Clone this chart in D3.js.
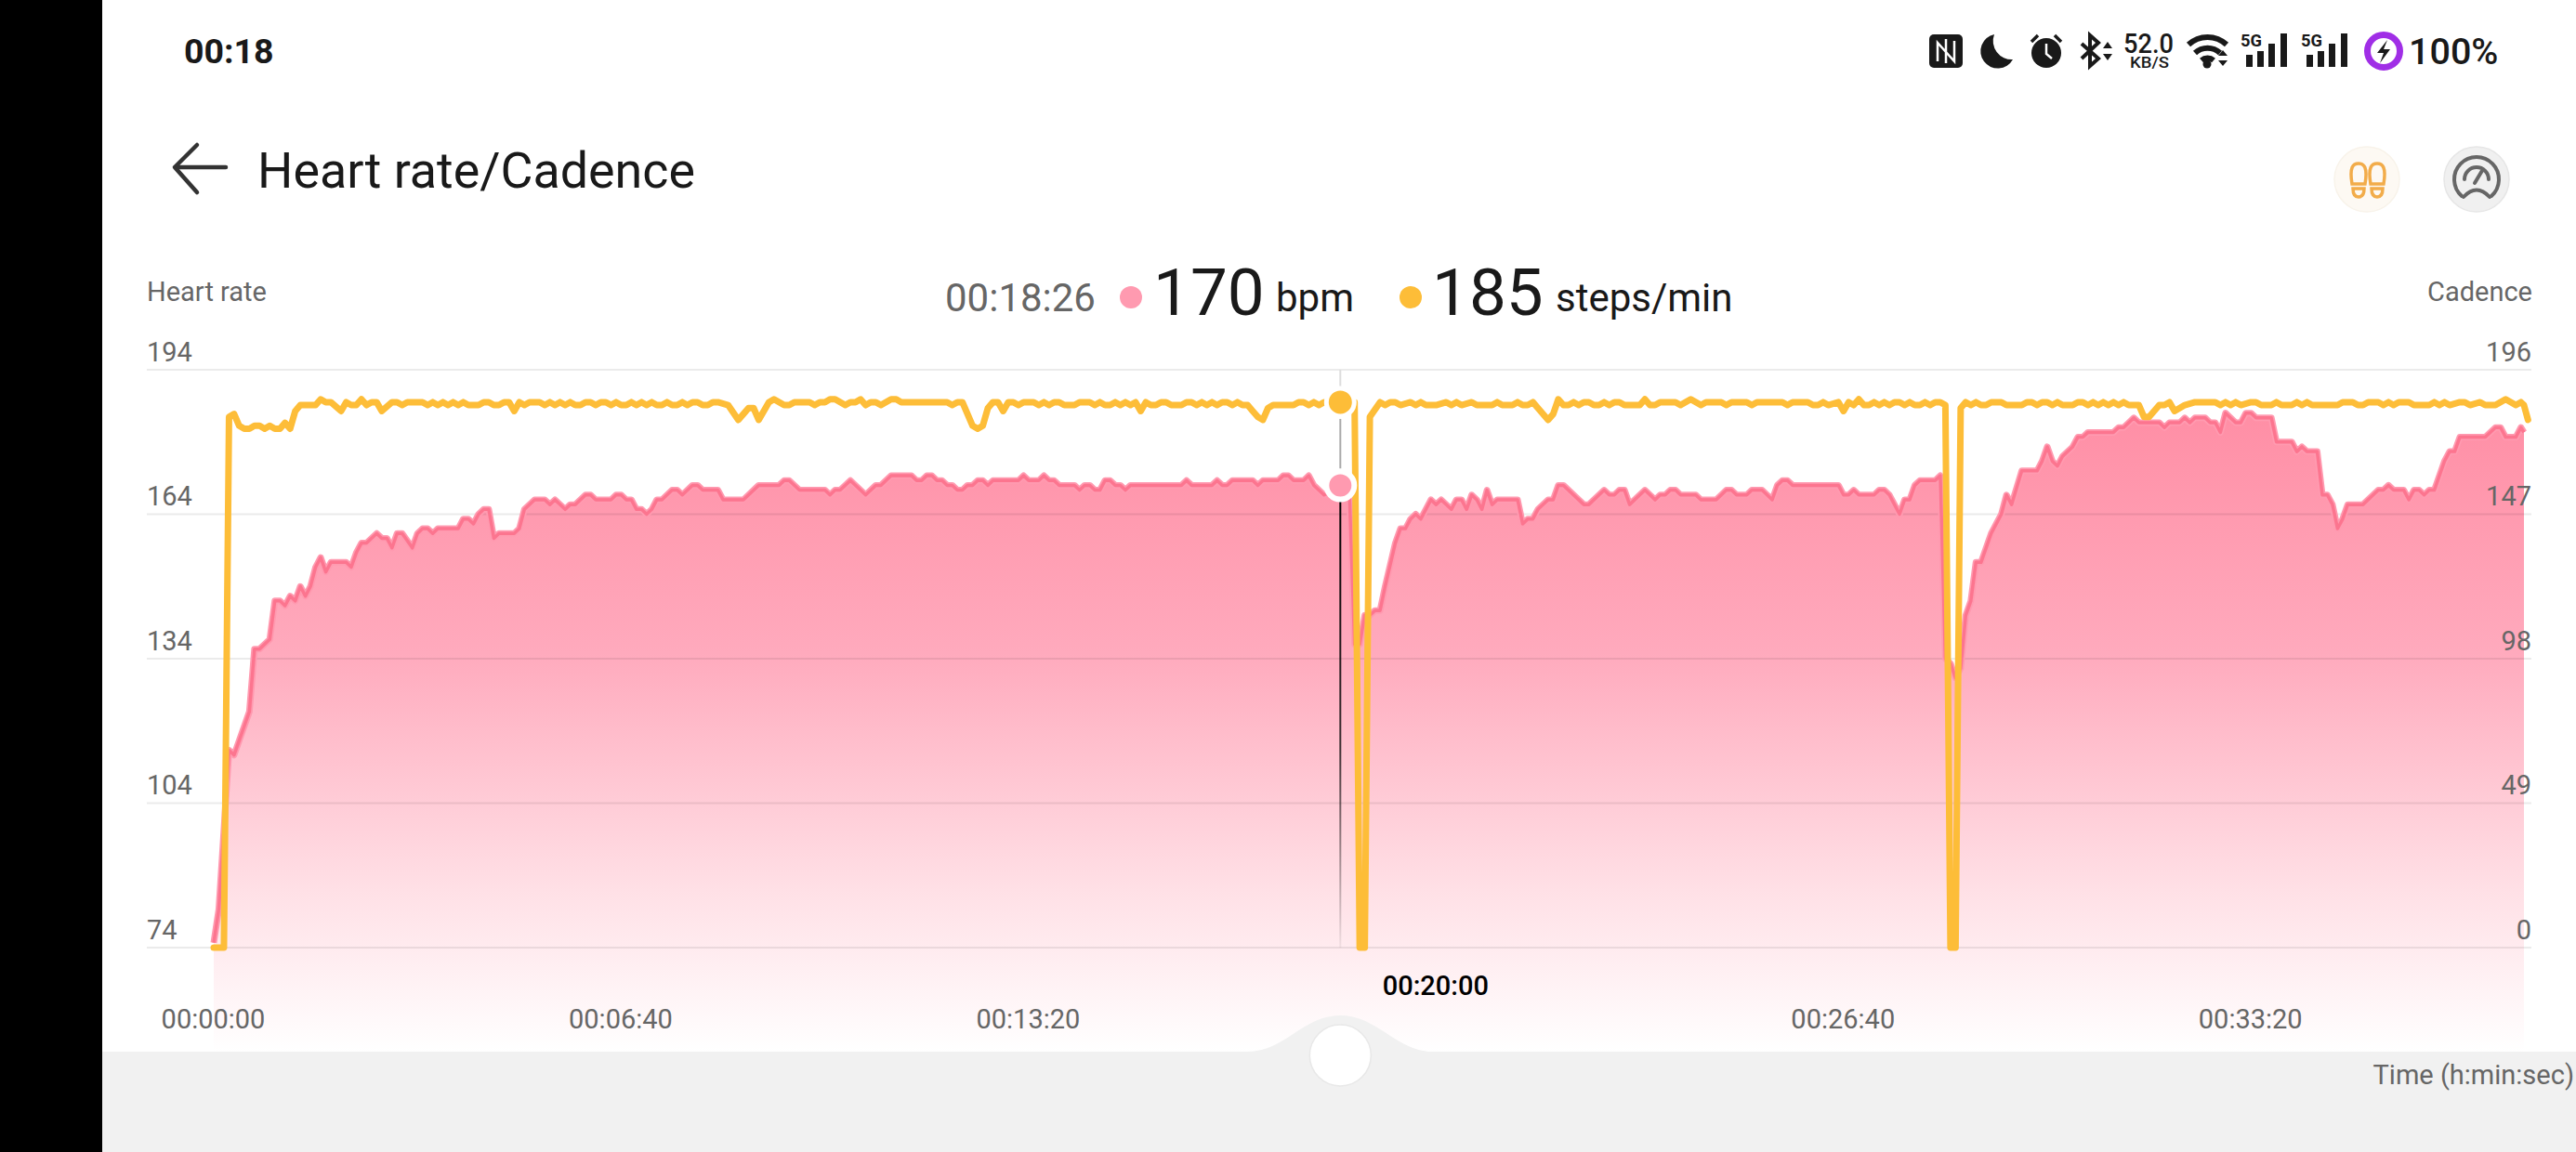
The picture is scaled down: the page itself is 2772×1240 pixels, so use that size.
<!DOCTYPE html>
<html><head><meta charset="utf-8">
<script src="https://cdn.jsdelivr.net/npm/d3@7"></script>
<style>
html,body{margin:0;padding:0;background:#fff}
svg{display:block}
text{font-family:Roboto,"Noto Sans",sans-serif}
</style></head><body>
<svg id="c" width="2772" height="1240"></svg>
<script>
const hrTicks=[74,104,134,164,194];
const cadenceTicks=[0,49,98,147,196];
const timeTicks=[0,400,800,1200,1600,2000];
const highlightedTick=1200;
const cursorSeconds=1106, cursorBpm=170, cursorCadence=185;

// [seconds, bpm]
const heartRate=[[0,75],[5,82],[15,115],[20,114],[35,123],[40,136],[45,136],[55,138],[60,146],[65,146],[70,145],[75,147],[80,146],[85,149],[90,147],[95,149],[100,153],[105,155],[110,152],[115,154],[130,154],[135,153],[140,156],[145,158],[150,158],[160,160],[165,159],[170,159],[175,157],[180,160],[185,160],[195,157],[200,160],[205,161],[210,161],[215,160],[220,161],[240,161],[245,163],[250,163],[255,162],[260,164],[265,165],[270,165],[275,159],[280,160],[295,160],[300,161],[305,165],[315,167],[325,167],[330,166],[335,167],[345,165],[350,166],[355,166],[365,168],[370,168],[375,167],[390,167],[395,168],[400,168],[405,167],[410,167],[415,165],[420,165],[425,164],[430,165],[435,167],[440,167],[450,169],[455,169],[460,168],[470,170],[475,170],[480,169],[495,169],[500,167],[520,167],
[535,170],[555,170],[560,171],[565,171],[575,169],[600,169],[605,168],[610,169],[615,169],[625,171],[640,168],[650,170],[655,170],[665,172],[685,172],[690,171],[695,171],[700,172],[705,172],[710,171],[715,171],[720,170],[725,170],[730,169],[735,169],[740,170],[745,170],[750,171],[755,171],[760,170],[765,171],[790,171],[795,172],[800,171],[810,171],[815,172],[820,171],[825,171],[830,170],[845,170],[850,169],[855,170],[860,170],[865,169],[870,169],[875,171],[880,171],[885,170],[890,170],[895,169],[900,170],[950,170],[955,171],[960,170],[980,170],[985,171],[990,170],[995,170],[1000,171],[1020,171],[1025,170],[1030,171],[1045,171],[1050,172],[1055,172],[1060,171],[1070,171],[1075,172],[1080,170],[1090,168],[1100,169],[1106,170],[1110,170],[1115,168],
[1120,137],[1125,137],[1130,143],[1135,143],[1140,144],[1145,144],[1150,149],[1160,158],[1165,161],[1170,161],[1175,163],[1180,164],[1185,163],[1195,167],[1200,166],[1205,167],[1215,165],[1220,167],[1225,167],[1230,165],[1235,168],[1240,167],[1245,165],[1250,169],[1255,166],[1260,167],[1280,167],[1285,162],[1290,163],[1295,163],[1300,165],[1310,167],[1315,167],[1320,170],[1325,170],[1345,166],[1350,166],[1365,169],[1370,168],[1375,168],[1380,169],[1385,169],[1390,166],[1405,169],[1415,167],[1420,168],[1425,168],[1430,169],[1435,169],[1440,168],[1455,168],[1460,167],[1475,167],[1485,169],[1490,169],[1495,168],[1505,168],[1510,169],[1520,169],[1530,167],[1535,170],[1540,171],[1545,171],[1550,170],[1595,170],[1600,168],[1605,168],[1610,169],[1615,168],[1630,168],[1635,169],[1640,169],[1645,168],[1655,164],[1660,167],[1665,167],[1670,170],[1675,171],[1690,171],[1695,172],
[1700,134],[1705,133],[1710,130],[1715,132],[1720,143],[1725,146],[1730,154],[1735,154],[1745,160],[1755,164],[1760,168],[1765,166],[1775,173],[1790,173],[1795,175],[1800,178],[1805,175],[1810,174],[1815,176],[1825,178],[1830,180],[1835,180],[1840,181],[1865,181],[1870,182],[1875,182],[1885,184],[1890,183],[1910,183],[1915,182],[1920,183],[1930,183],[1935,184],[1940,183],[1945,184],[1955,184],[1960,183],[1965,183],[1970,181],[1975,185],[1985,183],[1990,183],[1995,185],[2000,185],[2005,184],[2020,184],[2025,179],[2040,179],[2045,177],[2050,178],[2055,177],[2065,177],[2070,168],[2075,168],[2080,166],[2085,161],[2090,163],[2095,166],[2110,166],[2125,169],[2130,169],[2135,170],[2140,169],[2150,169],[2155,167],[2160,169],[2165,169],[2170,168],[2175,169],[2180,169],[2190,175],[2195,177],[2200,177],[2205,180],[2230,180],[2240,182],[2245,182],[2250,180],[2260,180],[2265,182],[2268,181]];

// [seconds, steps per minute]
const cadence=[[0,0],[10,0],[15,180],[20,181],[25,177],[30,176],[35,176],[40,177],[45,177],[50,176],[55,177],[60,176],[65,176],[70,178],[75,176],[80,182],[85,184],[100,184],[105,186],[110,185],[115,185],[125,182],[130,185],[135,184],[140,184],[145,186],[150,184],[155,185],[160,185],[165,182],[175,185],[180,185],[185,184],[190,185],[205,185],[210,184],[215,185],[220,184],[225,185],[230,184],[235,185],[240,184],[245,185],[250,184],[260,184],[265,185],[270,185],[275,184],[280,184],[285,185],[290,185],[295,182],[300,185],[305,184],[310,185],[320,185],[325,184],[330,185],[335,184],[340,185],[345,184],[350,185],[355,184],[360,184],[365,185],[370,185],[375,184],[380,185],[385,185],[390,184],[395,185],[400,184],[405,184],[410,185],[415,184],[420,185],[425,184],[430,185],[435,184],[440,184],[445,185],[450,184],[455,184],[460,185],[465,184],[470,185],[475,185],[480,184],[485,184],[490,185],[495,185],[505,184],[515,179],[520,181],
[525,183],[530,183],[535,179],[540,182],[545,185],[550,186],[560,184],[565,184],[570,185],[585,185],[590,184],[595,185],[600,185],[605,186],[610,186],[620,184],[625,185],[630,185],[635,186],[640,184],[645,185],[650,185],[655,184],[665,186],[670,186],[675,185],[720,185],[725,184],[730,185],[735,185],[740,181],[745,177],[750,176],[755,177],[760,183],[765,185],[770,185],[775,182],[780,185],[785,185],[790,184],[795,185],[805,185],[810,184],[815,185],[820,184],[825,185],[830,185],[835,184],[845,184],[850,185],[860,185],[865,184],[870,185],[875,184],[880,184],[885,185],[890,184],[895,185],[900,184],[905,185],[910,182],[915,185],[920,184],[925,184],[930,185],[935,185],[940,184],[950,184],[955,185],[960,185],[965,184],[970,185],[975,184],[980,185],[985,184],[990,185],[995,185],[1000,184],[1005,185],[1010,184],[1015,184],[1020,182],[1025,180],[1030,179],[1035,183],[1040,184],[1060,184],[1065,185],[1070,185],[1075,184],[1080,185],[1085,184],[1090,185],[1106,185],[1120,185],
[1125,0],[1130,0],[1135,180],[1145,185],[1150,184],[1155,185],[1160,185],[1165,184],[1175,185],[1180,184],[1185,185],[1190,184],[1200,184],[1210,185],[1215,184],[1220,185],[1225,184],[1235,185],[1240,184],[1255,184],[1260,185],[1265,184],[1275,184],[1280,185],[1285,184],[1290,184],[1295,185],[1300,183],[1310,179],[1315,181],[1320,186],[1325,184],[1330,184],[1335,185],[1340,184],[1345,185],[1350,185],[1355,184],[1360,184],[1365,185],[1370,184],[1375,185],[1380,185],[1385,184],[1400,184],[1405,186],[1410,184],[1415,184],[1420,185],[1435,185],[1440,184],[1450,186],[1460,184],[1465,185],[1480,185],[1485,184],[1490,185],[1505,185],[1510,184],[1515,185],[1540,185],[1545,184],[1550,185],[1565,185],[1570,184],[1575,184],[1580,185],[1585,184],[1595,185],[1600,182],[1605,185],[1610,184],[1615,186],[1620,184],[1625,184],[1630,185],[1635,184],[1640,185],[1645,184],[1650,185],[1655,185],[1660,184],[1665,185],[1670,184],[1675,184],[1680,185],[1685,184],[1690,185],[1695,185],[1700,184],
[1705,0],[1710,0],[1715,183],[1720,185],[1725,184],[1730,185],[1735,184],[1740,184],[1745,185],[1755,185],[1760,184],[1775,184],[1780,185],[1785,185],[1790,184],[1795,185],[1800,185],[1805,184],[1810,185],[1815,184],[1825,184],[1830,185],[1835,185],[1840,184],[1845,185],[1850,184],[1855,185],[1860,184],[1865,185],[1870,184],[1875,185],[1880,184],[1890,184],[1895,180],[1900,180],[1910,184],[1915,184],[1920,185],[1925,182],[1935,184],[1945,185],[1965,185],[1970,184],[1975,185],[1980,184],[1985,185],[1990,184],[2000,185],[2005,185],[2010,184],[2020,184],[2025,185],[2030,184],[2040,184],[2045,185],[2050,184],[2055,185],[2060,184],[2085,184],[2090,185],[2100,185],[2105,184],[2110,184],[2115,185],[2125,185],[2130,184],[2135,185],[2140,184],[2145,185],[2155,185],[2160,184],[2175,184],[2180,185],[2185,184],[2190,185],[2195,184],[2205,185],[2210,185],[2215,184],[2225,185],[2230,184],[2240,184],[2250,186],[2260,184],[2265,185],[2268,184],[2272,179]];

const svg=d3.select("#c");
const W=2772,H=1240;
const L=230,R=2716,T=398,B=1020,FADE=1132;
const x=d3.scaleLinear().domain([0,2268]).range([L,R]);
const yHr=d3.scaleLinear().domain([74,194]).range([B,T]);
const yCad=d3.scaleLinear().domain([0,196]).range([B,T]);
const GREY="#666",INK="#191919",PINK="#ff9ab0",AMBER="#fdbd38";

const defs=svg.append("defs");
const grad=defs.append("linearGradient").attr("id","hrFill").attr("gradientUnits","userSpaceOnUse").attr("x1",0).attr("x2",0).attr("y1",440).attr("y2",FADE);
[[0,"#ff8ea5"],[0.38,"#ffaabd"],[0.75,"#ffe0e6"],[1,"#ffffff"]].forEach(s=>grad.append("stop").attr("offset",s[0]).attr("stop-color",s[1]));
const cg=defs.append("linearGradient").attr("id","cursorFade").attr("gradientUnits","userSpaceOnUse").attr("x1",0).attr("x2",0).attr("y1",540).attr("y2",B);
[[0,"#000",1],[0.55,"#000",.75],[1,"#000",.05]].forEach(s=>cg.append("stop").attr("offset",s[0]).attr("stop-color",s[1]).attr("stop-opacity",s[2]));
defs.append("clipPath").attr("id","plotClip").append("rect").attr("x",L).attr("y",0).attr("width",R-L+1).attr("height",H);

svg.append("rect").attr("width",W).attr("height",H).attr("fill","#fff");

// HR fill
svg.append("path").datum(heartRate).attr("clip-path","url(#plotClip)").attr("fill","url(#hrFill)")
  .attr("d",d3.area().x(d=>x(d[0])).y1(d=>yHr(d[1])).y0(FADE));

// Grey lower panel with slider bump
const cx=x(cursorSeconds);
svg.append("path").attr("fill","#f1f1f1").attr("d",
  `M110 ${FADE}H${cx-100}C${cx-60} ${FADE} ${cx-40} ${FADE-39} ${cx} ${FADE-39}C${cx+40} ${FADE-39} ${cx+60} ${FADE} ${cx+100} ${FADE}H${W}V${H}H110Z`);
svg.append("rect").attr("width",110).attr("height",H).attr("fill","#000");

// Left axis + gridlines
const axL=svg.append("g").attr("transform",`translate(158,-0.5)`)
  .call(d3.axisLeft(yHr).tickValues(hrTicks).tickSize(0));
axL.select(".domain").remove();
axL.selectAll("line").attr("x2",2724-158).attr("stroke","#000").attr("stroke-opacity",.08).attr("stroke-width",2);
axL.selectAll("text").attr("x",0).attr("dy",-9.5).attr("text-anchor","start").attr("dominant-baseline","auto")
   .attr("font-size",29).attr("fill",GREY).attr("font-family","Roboto");
// Right axis
const axR=svg.append("g").attr("transform",`translate(2724,-0.5)`)
  .call(d3.axisRight(yCad).tickValues(cadenceTicks).tickSize(0));
axR.select(".domain").remove();
axR.selectAll("text").attr("x",0).attr("dy",-9.5).attr("text-anchor","end").attr("dominant-baseline","auto")
   .attr("font-size",29).attr("fill",GREY).attr("font-family","Roboto");
// Time axis
const fmt=s=>[Math.floor(s/3600),Math.floor(s/60)%60,s%60].map(v=>String(v).padStart(2,"0")).join(":");
const axB=svg.append("g").attr("transform",`translate(-1,1107)`)
  .call(d3.axisBottom(x).tickValues(timeTicks).tickSize(0).tickFormat(fmt));
axB.select(".domain").remove();
axB.selectAll("text").attr("y",0).attr("dy",0).attr("font-size",29).attr("fill",GREY).attr("font-family","Roboto")
  .filter(d=>d===highlightedTick).attr("y",-36).attr("fill","#000").attr("font-weight",500);

// Lines
const hrLine=d3.line().x(d=>x(d[0])).y(d=>yHr(d[1]));
svg.append("path").datum(heartRate).attr("fill","none").attr("stroke","#ff9ab0").attr("stroke-width",7).attr("stroke-linejoin","round").attr("d",hrLine);
svg.append("path").datum(heartRate).attr("fill","none").attr("stroke","#fb6f8a").attr("stroke-width",3.5).attr("stroke-opacity",.85).attr("stroke-linejoin","round")
  .attr("d",hrLine);
svg.append("path").datum(cadence).attr("fill","none").attr("stroke",AMBER).attr("stroke-width",7).attr("stroke-linejoin","round").attr("stroke-linecap","round")
  .attr("d",d3.line().x(d=>x(d[0])).y(d=>yCad(d[1])));

// Cursor
svg.append("line").attr("x1",cx).attr("x2",cx).attr("y1",398).attr("y2",420).attr("stroke","#ddd").attr("stroke-width",2);
svg.append("line").attr("x1",cx).attr("x2",cx).attr("y1",yCad(cursorCadence)+18).attr("y2",yHr(cursorBpm)-18).attr("stroke","#aaa").attr("stroke-width",2);
svg.append("rect").attr("x",cx-1).attr("width",2).attr("y",yHr(cursorBpm)+17).attr("height",B-yHr(cursorBpm)-17).attr("fill","url(#cursorFade)");
svg.append("circle").attr("cx",cx).attr("cy",yCad(cursorCadence)).attr("r",15).attr("fill",AMBER).attr("stroke","#fff").attr("stroke-width",5);
svg.append("circle").attr("cx",cx).attr("cy",yHr(cursorBpm)).attr("r",15).attr("fill",PINK).attr("stroke","#fff").attr("stroke-width",6);

// Slider knob
svg.append("circle").attr("cx",cx).attr("cy",1136).attr("r",33).attr("fill","#fff").attr("stroke","#e8e8e8").attr("stroke-width",1.5);

function t(str,xp,yp,size,fill,opts={}){
  const n=svg.append("text").attr("x",xp).attr("y",yp).attr("font-size",size).attr("fill",fill).text(str);
  Object.entries(opts).forEach(([k,v])=>n.attr(k,v));
  return n;
}
// Labels
t("Heart rate",158,324,29,GREY);
t("Cadence",2725,324,29,GREY,{"text-anchor":"end"});
t("Time (h:min:sec)",2770,1167,29,GREY,{"text-anchor":"end"});
// Readout
t(fmt(cursorSeconds),1017,335,42,GREY);
svg.append("circle").attr("cx",1217).attr("cy",320).attr("r",12).attr("fill",PINK);
t(String(cursorBpm),1241,339,71,INK);
t("bpm",1373,335,42,INK);
svg.append("circle").attr("cx",1518).attr("cy",320).attr("r",12).attr("fill",AMBER);
t(String(cursorCadence),1541,339,71,INK);
t("steps/min",1674,335,42,INK);

// Header
t("00:18",198,68,37.5,INK,{"font-weight":700});
t("Heart rate/Cadence",277,202,53.8,INK);
svg.append("path").attr("d","M212 156L188 180H243M188 180L212 207").attr("fill","none").attr("stroke","#333").attr("stroke-width",4.5).attr("stroke-linecap","round").attr("stroke-linejoin","round");

// Action icons
svg.append("circle").attr("cx",2547).attr("cy",193).attr("r",35).attr("fill","#fdf9f3").attr("stroke","#f8f3ea").attr("stroke-width",1.5);
svg.append("circle").attr("cx",2665).attr("cy",193).attr("r",35).attr("fill","#f0f0f0").attr("stroke","#e6e6e6").attr("stroke-width",1.5);
const foot=svg.append("g").attr("fill","none").attr("stroke","#f2ac4a").attr("stroke-width",3.5);
[2538,2558].forEach(c=>{
  foot.append("path").attr("d",`M${c-7} 198C${c-10} 180 ${c-6} 176 ${c} 176C${c+6} 176 ${c+10} 180 ${c+7} 198Z`);
  foot.append("path").attr("d",`M${c-6} 203H${c+6}C${c+6} 210 ${c+3} 212 ${c} 212C${c-3} 212 ${c-6} 210 ${c-6} 203Z`);
});
svg.append("path").attr("d","M2649 211A24 24 0 1 1 2681 211M2651 212Q2665 197 2679 212M2652 193A13 13 0 0 1 2678 193M2663 197L2672 182")
  .attr("fill","none").attr("stroke","#666").attr("stroke-width",4).attr("stroke-linecap","round");

// Status bar
svg.append("rect").attr("x",2076).attr("y",37).attr("width",36).attr("height",36).attr("rx",5).attr("fill",INK);
svg.append("path").attr("d","M2085 66V46L2094 56L2103 66V44M2094 42V68").attr("fill","none").attr("stroke","#fff").attr("stroke-width",2.5);
svg.append("path").attr("d","M2146 37A18.5 18.5 0 1 0 2166 64A20 20 0 0 1 2146 37Z").attr("fill",INK);
svg.append("circle").attr("cx",2202).attr("cy",57).attr("r",16).attr("fill",INK);
svg.append("path").attr("d","M2202 47V58L2208 63").attr("fill","none").attr("stroke","#fff").attr("stroke-width",2.5);
svg.append("path").attr("d","M2186 45L2193 38M2218 45L2211 38").attr("fill","none").attr("stroke",INK).attr("stroke-width",3.5);
svg.append("path").attr("d","M2240 47L2258 63L2249 71V38L2258 46L2240 63").attr("fill","none").attr("stroke",INK).attr("stroke-width",4);
svg.append("path").attr("d","M2263 52L2268 45L2273 52ZM2263 58H2273L2268 65Z").attr("fill",INK);
t("52.0",2285,57,29,INK,{"font-weight":500,"textLength":54,"lengthAdjust":"spacingAndGlyphs"});
t("KB/S",2292,73,17,INK,{"font-weight":500,"textLength":42,"lengthAdjust":"spacingAndGlyphs"});
svg.append("path").attr("d","M2355 48A30 30 0 0 1 2396 48M2362 57A20 20 0 0 1 2389 57M2369 65A10 10 0 0 1 2382 65").attr("fill","none").attr("stroke",INK).attr("stroke-width",6);
svg.append("circle").attr("cx",2375).attr("cy",69).attr("r",4.5).attr("fill",INK);
svg.append("path").attr("d","M2387 60L2392 54L2397 60ZM2387 65H2397L2392 71Z").attr("fill",INK);
[2411,2476].forEach(x0=>{
  t("5G",x0,50,19,INK,{"font-weight":700,"textLength":23,"lengthAdjust":"spacingAndGlyphs"});
  [[6,59],[18,55],[30,47],[43,36]].forEach(([dx,y0])=>svg.append("rect").attr("x",x0+dx).attr("y",y0).attr("width",7).attr("height",72-y0).attr("fill",INK));
});
svg.append("circle").attr("cx",2565).attr("cy",55).attr("r",17.5).attr("fill","none").attr("stroke","#a02ee6").attr("stroke-width",7);
svg.append("path").attr("d","M2569 43L2558 57H2565L2561 68L2572 53H2565Z").attr("fill",INK);
t("100%",2592,69,39.5,INK,{"font-weight":500});
</script>
</body></html>
